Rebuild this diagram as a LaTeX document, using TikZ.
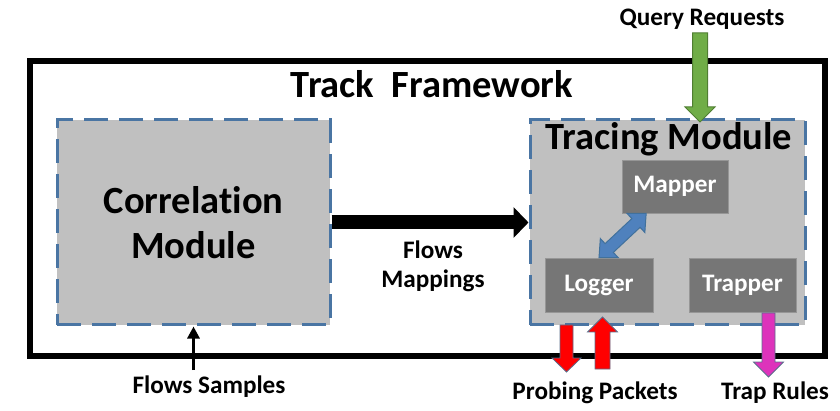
\documentclass[tikz,border=0pt]{standalone}
\usepackage{fontspec}
\setmainfont{Carlito}[RawFeature={-liga}]
\usetikzlibrary{calc,arrows.meta}
\definecolor{modfill}{RGB}{192,192,192}
\definecolor{modline}{RGB}{74,117,163}
\definecolor{boxfill}{RGB}{118,118,118}
\definecolor{boxline}{RGB}{150,150,150}
\definecolor{qgreen}{RGB}{112,173,71}
\definecolor{qgreenline}{RGB}{80,126,50}
\definecolor{pblue}{RGB}{79,129,189}
\definecolor{pblueline}{RGB}{65,113,156}
\definecolor{pred}{RGB}{255,0,0}
\definecolor{ppink}{RGB}{221,51,187}
\definecolor{arrline}{RGB}{90,110,140}
% single fat arrow: style, from, to, shaft half width, head half width, head length
\newcommand\fatarrow[6]{%
  \coordinate (fa-c) at ($(#3)!#6!(#2)$);
  \draw[#1] ($(#2)!#4!90:(#3)$) -- ($(fa-c)!#4!90:(#3)$) -- ($(fa-c)!#5!90:(#3)$) -- (#3)
     -- ($(fa-c)!#5!-90:(#3)$) -- ($(fa-c)!#4!-90:(#3)$) -- ($(#2)!#4!-90:(#3)$) -- cycle;}
% double fat arrow
\newcommand\fatdarrow[6]{%
  \coordinate (fd-c1) at ($(#3)!#6!(#2)$);
  \coordinate (fd-c2) at ($(#2)!#6!(#3)$);
  \draw[#1] (#2) -- ($(fd-c2)!#5!90:(#3)$) -- ($(fd-c2)!#4!90:(#3)$) -- ($(fd-c1)!#4!90:(#3)$)
     -- ($(fd-c1)!#5!90:(#3)$) -- (#3) -- ($(fd-c1)!#5!-90:(#3)$) -- ($(fd-c1)!#4!-90:(#3)$)
     -- ($(fd-c2)!#4!-90:(#3)$) -- ($(fd-c2)!#5!-90:(#3)$) -- cycle;}
\begin{document}
\begin{tikzpicture}[x=1pt,y=-1pt,
  bigfont/.style={font=\fontsize{38.5}{45}\selectfont\bfseries},
  smallfont/.style={font=\fontsize{25.2}{29}\selectfont\bfseries},
  frame/.style={draw=black, line width=6pt, inner sep=0pt},
  module/.style={draw=modline, fill=modfill, line width=3pt, dash pattern=on 24pt off 11pt, inner sep=0pt, bigfont, align=center},
  subbox/.style={draw=boxline, fill=boxfill, line width=0.8pt, inner sep=0pt, smallfont, text=white, minimum width=107pt, minimum height=54pt},
  label/.style={smallfont, inner sep=0pt, align=center},
  fatblack/.style={line width=14pt, -{Triangle[width=30pt,length=15pt]}},
  thinblack/.style={line width=3pt, -{Triangle[width=12pt,length=12pt]}},
  green arrow/.style={fill=qgreen, draw=qgreenline, line width=1pt},
  blue arrow/.style={fill=pblue, draw=pblueline, line width=1pt},
  red arrow/.style={fill=pred, draw=arrline, line width=0.8pt},
  pink arrow/.style={fill=ppink, draw=arrline, line width=0.8pt}]
\useasboundingbox (0,0) rectangle (840,411);
\node[frame, minimum width=795pt, minimum height=295pt] (frame) at (427.5,208.5) {};
\node[bigfont, anchor=base, inner sep=0pt] (title) at (432,98) {Track\ \ Framework};
\node[module, minimum width=273pt, minimum height=205pt] (corr) at (193.5,222.5) {Correlation\\Module};
\node[module, minimum width=275pt, minimum height=205pt] (trace) at (667.5,222.5) {};
\node[bigfont, anchor=base, inner sep=0pt] (tracetitle) at (669,150) {Tracing Module};
\node[subbox, minimum width=106pt, minimum height=53pt] (mapper) at (675,186.5) {Mapper};
\node[subbox, minimum width=108pt] (logger) at (599,285) {Logger};
\node[subbox] (trapper) at (742.5,285) {Trapper};
\node[label] (fm) at (433,266) {Flows\\Mappings};
\node[label, anchor=base] (qr) at (702,26) {Query Requests};
\node[label, anchor=base] (fs) at (209,393) {Flows Samples};
\node[label, anchor=base] (pp) at (595,399) {Probing Packets};
\node[label, anchor=base] (tr) at (775,399) {Trap Rules};
% connectors
\draw[fatblack] (corr.east) -- (trace.west);
\coordinate (fsstart) at (193.5,370);
\draw[thinblack] (fsstart) -- (corr.south);
\coordinate (qstart) at (700,33);
\coordinate (qend) at (700,122);
\fatarrow{green arrow}{qstart}{qend}{7.5pt}{15pt}{15pt}
\coordinate (mapin) at ($(mapper.south west)!0.23!(mapper.south east)$);
\fatdarrow{blue arrow}{logger.north}{mapin}{6pt}{13pt}{14pt}
\coordinate (pdstart) at (566.5,325);
\coordinate (pdend) at (566.5,372);
\fatarrow{red arrow}{pdstart}{pdend}{6.5pt}{14.5pt}{14pt}
\coordinate (pustart) at (602.5,369);
\coordinate (puend) at (602.5,317);
\fatarrow{red arrow}{pustart}{puend}{7.5pt}{15pt}{15pt}
\coordinate (trstart) at (768.5,313);
\coordinate (trend) at (768.5,377);
\fatarrow{pink arrow}{trstart}{trend}{6.5pt}{15pt}{15pt}
\end{tikzpicture}
\end{document}
